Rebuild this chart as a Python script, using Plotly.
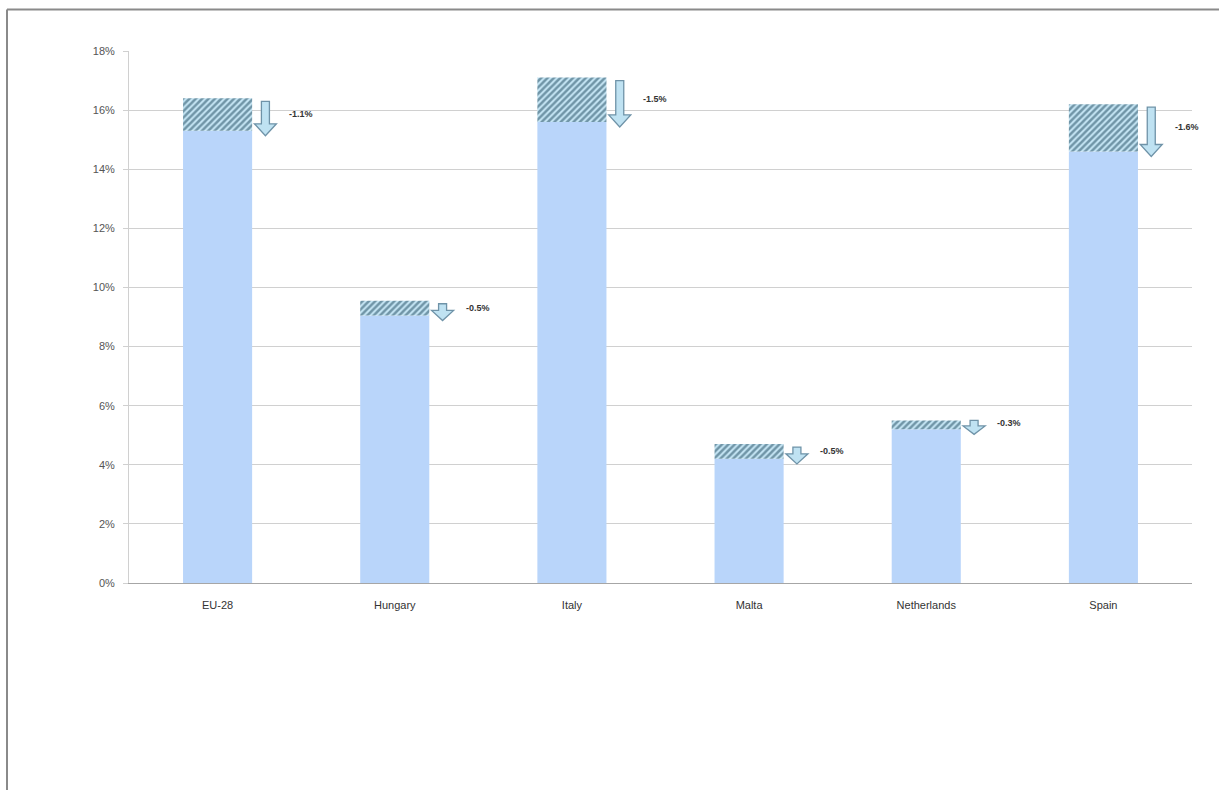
import plotly.graph_objects as go

categories = ["EU-28", "Hungary", "Italy", "Malta", "Netherlands", "Spain"]
previous = [16.4, 9.55, 17.1, 4.7, 5.5, 16.2]
current = [15.3, 9.05, 15.6, 4.2, 5.2, 14.6]
change_labels = ["-1.1%", "-0.5%", "-1.5%", "-0.5%", "-0.3%", "-1.6%"]
y_ticks = [0, 2, 4, 6, 8, 10, 12, 14, 16, 18]
y_tick_labels = [f"{v}%" for v in y_ticks]

xs = list(range(len(categories)))
diff = [p - c for p, c in zip(previous, current)]

fig = go.Figure()
fig.add_trace(go.Bar(x=xs, y=current, width=0.39, marker=dict(color="#b9d5fa", line=dict(width=0)),
                     showlegend=False, hoverinfo="skip"))
fig.add_trace(go.Bar(x=xs, y=diff, base=current, width=0.39,
                     marker=dict(color="#c6e6f5", line=dict(width=0),
                                 pattern=dict(shape="/", fgcolor="#1a4459", bgcolor="#c6e6f5",
                                              size=4.5, solidity=0.55)),
                     showlegend=False, hoverinfo="skip"))

px = 1.0 / 177.0   # x data units per pixel
py = 18.0 / 532.0  # y data units per pixel
shapes = []
annotations = []
for i, (p, c, lab) in enumerate(zip(previous, current, change_labels)):
    xc = i + 0.27
    tip = c - 5 * py
    top = max(p - 3 * py, tip + 14 * py)
    head_len = min(12 * py, (top - tip) * 0.6)
    sw = 4 * px
    hw = 11 * px
    neck = tip + head_len
    path = (f"M {xc - sw},{top} L {xc + sw},{top} L {xc + sw},{neck} L {xc + hw},{neck} "
            f"L {xc},{tip} L {xc - hw},{neck} L {xc - sw},{neck} Z")
    shapes.append(dict(type="path", path=path, xref="x", yref="y",
                       fillcolor="#bfe2f2", line=dict(color="#6f93a8", width=1.3), layer="above"))
    annotations.append(dict(x=xc + 0.12, y=(top + tip) / 2 + 0.15, xref="x", yref="y",
                            text=f"<b>{lab}</b>",
                            showarrow=False, xanchor="left", yanchor="middle",
                            font=dict(family="Liberation Sans, Arial", size=9, color="#333333")))

fig.update_layout(
    width=1219, height=790,
    margin=dict(l=129, r=27, t=51, b=207),
    paper_bgcolor="white", plot_bgcolor="white",
    barmode="overlay",
    shapes=shapes,
    annotations=annotations,
    font=dict(family="Liberation Sans, Arial", size=11, color="#444444"),
    xaxis=dict(range=[-0.5, 5.5], tickvals=xs, ticktext=categories, showgrid=False,
               showline=True, linecolor="#a6a6a6", linewidth=1, ticks="", ticklabelstandoff=12,
               tickfont=dict(size=11, color="#333333"), zeroline=False, fixedrange=True),
    yaxis=dict(range=[0, 18], tickvals=y_ticks, ticktext=y_tick_labels, showgrid=True,
               gridcolor="#d0d0d0", gridwidth=1, showline=True, linecolor="#d0d0d0",
               ticks="outside", ticklen=5, tickcolor="#d0d0d0", zeroline=False,
               ticklabelstandoff=6,
               tickfont=dict(size=11, color="#555555"), fixedrange=True),
)

plot_w = 1219 - 129 - 27
plot_h = 790 - 51 - 207
x_left = (7 - 129) / plot_w
y_top = 1 + (51 - 9.5) / plot_h
fig.add_shape(type="line", xref="paper", yref="paper", x0=x_left, x1=(1219 - 129) / plot_w,
              y0=y_top, y1=y_top, line=dict(color="#8a8a8a", width=2))
fig.add_shape(type="line", xref="paper", yref="paper", x0=x_left, x1=x_left,
              y0=y_top, y1=-(207 + 5) / plot_h, line=dict(color="#8a8a8a", width=2))

fig.write_html("out.html")
